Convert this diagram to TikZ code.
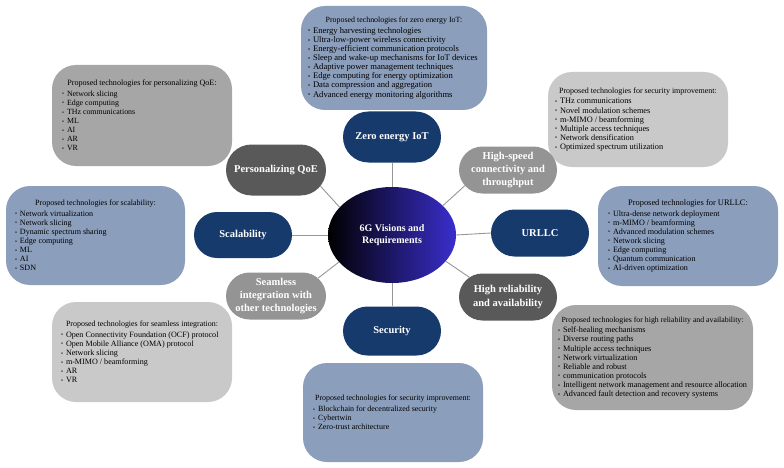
\documentclass[tikz,border=0pt]{standalone}
\usepackage{fontspec}
\usepackage{graphicx}
\setmainfont{Liberation Serif}
\usetikzlibrary{shapes.geometric,shapes.misc}
\definecolor{nblue}{RGB}{22,58,108}
\definecolor{ndark}{RGB}{89,89,89}
\definecolor{nmid}{RGB}{148,148,148}
\definecolor{boxblue}{RGB}{139,158,187}
\definecolor{boxgray}{RGB}{166,166,166}
\definecolor{boxlight}{RGB}{201,201,201}
\definecolor{linkgray}{RGB}{150,150,150}
\definecolor{ellviolet}{RGB}{58,46,205}
\newcommand\bul{\par\noindent\makebox[5pt][l]{\raisebox{0.4pt}{\scalebox{0.7}{\textbullet}}}}
% [raise]{width}{title size}{item size}{title}{items}
\newcommand\boxtext[6][0pt]{\raisebox{#1}{\begin{minipage}{#2}\centering\fontsize{#3}{9.1}\selectfont #5\par\vspace{1.5pt}\raggedright\fontsize{#4}{9.1}\selectfont #6\end{minipage}}}
\tikzset{
  pill/.style={rounded rectangle, fill=#1, text=white, font=\fontsize{10.5}{13.3}\selectfont\bfseries, align=center, inner sep=1pt, minimum width=100pt, minimum height=48pt},
  infobox/.style={rectangle, rounded corners=24pt, fill=#1, inner sep=0pt, text=black},
  link/.style={draw=linkgray, line width=0.9pt},
}
\begin{document}
\begin{tikzpicture}[x=1pt,y=-1pt]
\useasboundingbox (0,0) rectangle (784,468);
% info boxes
\node[infobox=boxblue, minimum width=186pt, minimum height=104pt] (bzero) at (394,58)
 {\boxtext{172pt}{7.9}{8.6}{Proposed technologies for zero energy IoT:}{\bul Energy harvesting technologies\bul Ultra-low-power wireless connectivity\bul Energy-efficient communication protocols\bul Sleep and wake-up mechanisms for IoT devices\bul Adaptive power management techniques\bul Edge computing for energy optimization\bul Data compression and aggregation\bul Advanced energy monitoring algorithms}};
\node[infobox=boxgray, minimum width=180pt, minimum height=101pt] (bpers) at (142,115.5)
 {\boxtext{160pt}{8.1}{7.9}{Proposed technologies for personalizing QoE:}{\bul Network slicing\bul Edge computing\bul THz communications\bul ML\bul AI\bul AR\bul VR}};
\node[infobox=boxlight, minimum width=180pt, minimum height=95pt] (bseca) at (638,119.5)
 {\boxtext[4pt]{166pt}{8}{8.3}{Proposed technologies for security improvement:}{\bul THz communications\bul Novel modulation schemes\bul m-MIMO / beamforming\bul Multiple access techniques\bul Network densification\bul Optimized spectrum utilization}};
\node[infobox=boxblue, minimum width=179pt, minimum height=99pt] (bscal) at (95.5,235.5)
 {\boxtext{161pt}{8}{8.05}{Proposed technologies for scalability:}{\bul Network virtualization\bul Network slicing\bul Dynamic spectrum sharing\bul Edge computing\bul ML\bul AI\bul SDN}};
\node[infobox=boxblue, minimum width=180pt, minimum height=100pt] (burllc) at (688,236)
 {\boxtext{160pt}{8.4}{8.1}{Proposed technologies for URLLC:}{\bul Ultra-dense network deployment\bul m-MIMO / beamforming\bul Advanced modulation schemes\bul Network slicing\bul Edge computing\bul Quantum communication\bul AI-driven optimization}};
\node[infobox=boxlight, minimum width=180pt, minimum height=100pt] (bseam) at (142,352)
 {\boxtext{162pt}{7.95}{8.1}{Proposed technologies for seamless integration:}{\bul Open Connectivity Foundation (OCF) protocol\bul Open Mobile Alliance (OMA) protocol\bul Network slicing\bul m-MIMO / beamforming\bul AR\bul VR}};
\node[infobox=boxgray, minimum width=201pt, minimum height=105pt] (bhr) at (652.5,357.5)
 {\boxtext[-1.5pt]{189pt}{7.8}{8.2}{\mbox{Proposed technologies for high reliability and availability:}}{\bul Self-healing mechanisms\bul Diverse routing paths\bul Multiple access techniques\bul Network virtualization\bul Reliable and robust\bul communication protocols\bul Intelligent network management and resource allocation\bul Advanced fault detection and recovery systems}};
\node[infobox=boxblue, minimum width=180pt, minimum height=99pt] (bsecb) at (393,412.5)
 {\boxtext{160pt}{7.9}{7.95}{Proposed technologies for security improvement:}{\bul Blockchain for decentralized security\bul Cybertwin\bul Zero-trust architecture}};
% centre
\node[ellipse, minimum width=128pt, minimum height=96pt, left color=black, right color=ellviolet, text=white, font=\fontsize{10}{12.3}\selectfont\bfseries, align=center, inner sep=0pt] (ell) at (392,235) {6G Visions and\\Requirements};
% pills
\node[pill=nblue, minimum width=100pt, minimum height=51pt] (zero) at (392,137) {Zero energy IoT};
\node[pill=ndark, minimum width=102pt, minimum height=51pt] (pers) at (276,170) {Personalizing QoE};
\node[pill=nmid, minimum width=100pt, minimum height=47pt] (hs) at (508,170) {High-speed\\connectivity and\\throughput};
\node[pill=nblue, minimum width=100pt, minimum height=46pt] (scal) at (243,235) {Scalability};
\node[pill=nblue, minimum width=100pt, minimum height=47pt] (urllc) at (540,233) {URLLC};
\node[pill=nmid, minimum width=102pt, minimum height=47pt] (seam) at (276,296) {Seamless\\integration with\\other technologies};
\node[pill=ndark, minimum width=100pt, minimum height=47pt] (hr) at (508,297) {High reliability\\and availability};
\node[pill=nblue, minimum width=100pt, minimum height=49pt] (sec) at (392,331) {Security};
% connectors
\draw[link] (zero.south) -- (ell.north);
\draw[link] (pers.-20) -- (ell.152);
\draw[link] (hs.200) -- (ell.30);
\draw[link] (scal.east) -- (ell.west);
\draw[link] (ell.east) -- (urllc.west);
\draw[link] (seam.23) -- (ell.207);
\draw[link] (hr.153) -- (ell.-26);
\draw[link] (ell.south) -- (sec.north);
\end{tikzpicture}
\end{document}
